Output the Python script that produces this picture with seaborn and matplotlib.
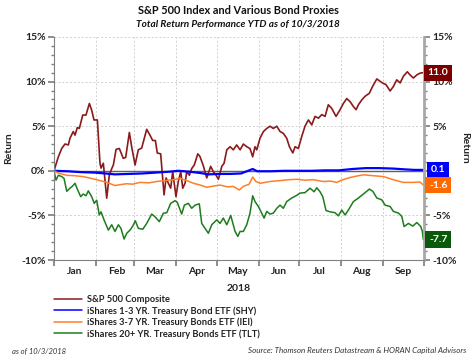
import numpy as np
import pandas as pd
import matplotlib
matplotlib.use("Agg")
import matplotlib.pyplot as plt
import seaborn as sns

# ---------------- data (days since 2018-01-01, total return %) ----------------
spx_days = [0, 3.2, 5.7, 8.1, 10.6, 11.8, 14.2, 15.5, 17.2, 18.7, 21.2, 23.6, 26.1, 27.8, 29.5, 32.0,
            33.9, 34.7, 36.4, 38.9, 40.8, 42.6, 43.8, 45.8, 48.2, 51.1, 52.9, 55.6, 57.3, 59.8, 62.2,
            64.7, 68.4, 70.8, 72.8, 74.8, 76.2, 78.7, 81.2, 82.7, 84.4, 86.1, 87.6, 90.0, 91.7, 93.5,
            95.0, 96.7, 97.9, 99.9, 101.6, 103.5, 106.1, 107.7, 110.2, 112.7, 115.6, 117.6, 119.6,
            121.3, 123.8, 125.5, 127.5, 129.9, 132.3, 134.8, 137.3, 139.7, 142.2, 144.6, 146.6, 148.3,
            149.6, 152.0, 154.5, 157.0, 159.4, 161.8, 164.4, 166.8, 169.2, 171.7, 173.7, 176.2, 177.9,
            180.3, 182.8, 185.2, 187.7, 190.2, 192.6, 195.1, 197.6, 200.0, 202.4, 204.9, 208.1, 211.1,
            213.5, 216.0, 218.5, 220.9, 222.9, 224.6, 227.1, 229.5, 232.7, 235.2, 238.2, 241.8, 245.0,
            248.0, 250.4, 252.9, 255.4, 257.8, 260.7, 262.7, 265.2, 267.7, 270.1, 272.1]
spx_vals = [0, 1.57, 2.5, 3.0, 2.9, 3.65, 4.4, 4.0, 4.85, 4.75, 6.25, 6.25, 7.55, 6.8, 5.7, 5.7,
            0.9, 0.3, 0.85, -3.07, -0.5, 0.25, 0.65, 2.4, 2.5, 1.4, 1.5, 4.3, 2.7, 0.65, 2.35,
            2.55, 4.65, 4.0, 3.4, 3.4, 2.0, 1.9, -2.7, -0.8, -1.4, -1.95, -0.1, -2.9, -1.2, -0.1,
            -1.95, -1.4, -0.1, -0.5, 0.25, 0.65, 1.9, 1.6, 0.55, -0.8, 0.5, -0.1, -0.5,
            -0.95, 0.5, 0.85, 2.35, 2.7, 2.35, 2.9, 2.35, 3.0, 2.7, 2.5, 1.57, 2.7,
            2.35, 3.65, 4.4, 4.75, 5.0, 4.75, 5.0, 4.4, 4.2, 3.65, 2.7, 2.0, 2.7,
            2.5, 3.85, 5.0, 5.7, 5.15, 6.1, 5.9, 6.3, 6.1, 7.4, 7.0, 6.1, 6.85,
            7.55, 8.1, 7.75, 7.2, 6.85, 7.4, 7.95, 8.35, 8.7, 9.5, 10.3, 9.9, 9.65,
            8.95, 9.45, 10.2, 9.85, 10.6, 11.1, 10.75, 10.4, 10.75, 10.95, 11.0]

shy_days = [0, 10, 20, 30, 38, 45, 55, 65, 75, 85, 92, 100, 108, 114, 122, 130, 138, 146.6, 150,
            160, 170, 180, 190, 200, 210, 220, 230, 240, 250, 260, 266, 272]
shy_vals = [0, -0.05, -0.15, -0.2, -0.3, -0.4, -0.35, -0.3, -0.2, -0.1, 0.0, -0.1, -0.25, -0.4, -0.35,
            -0.35, -0.3, 0.2, -0.05, -0.05, 0.0, 0.0, 0.0, 0.05, 0.05, 0.2, 0.3, 0.3, 0.25, 0.15, 0.1, 0.1]

iei_days = [0, 4, 9.4, 15, 21.5, 26, 31.5, 38.9, 45, 49, 53.6, 58, 63.5, 70, 75.8, 82, 88, 93, 98,
            102.9, 108, 112.7, 118, 122.5, 128, 132.3, 136.7, 139.7, 144, 146.6, 149, 152, 159.4,
            166.8, 173, 179.1, 185, 191.4, 198.7, 204, 208.6, 213, 218.5, 223, 228.3, 235.6, 243,
            250.4, 257.8, 265.2, 270, 272.5]
iei_vals = [0, -0.3, -0.5, -0.55, -0.65, -0.8, -1.0, -1.3, -1.65, -1.55, -1.45, -1.5, -1.3, -1.35, -1.2,
            -1.1, -1.0, -0.85, -1.1, -1.4, -1.6, -1.85, -1.7, -1.6, -1.8, -1.75, -2.15, -1.75, -1.5,
            -0.7, -1.2, -1.4, -1.2, -1.1, -1.0, -0.95, -1.05, -1.0, -1.2, -1.15, -1.3, -1.0, -0.75,
            -0.6, -0.45, -0.55, -0.65, -1.0, -1.3, -1.3, -1.25, -1.6]

tlt_days = [0, 1.5, 3.2, 5.7, 7.4, 9.4, 11.8, 13.8, 15.5, 17.2, 19.7, 21.6, 23.6, 25.3, 27.8, 29.7,
            31.5, 33.4, 34.7, 36.9, 40.1, 42.6, 45.0, 47.5, 49.4, 51.7, 53.7, 56.1, 58.1, 60.0, 62.2,
            65.5, 68.4, 72.1, 74.5, 77.7, 80.7, 83.2, 86.1, 89.3, 91.0, 94.2, 96.2, 99.1, 101.6,
            104.1, 107.2, 109.0, 113.9, 116.4, 120.1, 122.5, 124.9, 127.5, 130.4, 133.6, 135.6,
            137.3, 139.7, 142.2, 144.6, 146.6, 148.3, 150.8, 153.3, 155.0, 157.0, 159.4, 161.8,
            164.4, 166.8, 169.2, 171.7, 175.4, 178.6, 181.5, 185.2, 188.9, 191.9, 193.9, 196.3,
            198.3, 200.7, 203.7, 207.4, 209.8, 212.3, 214.8, 217.2, 220.9, 224.6, 228.3, 232.7,
            235.2, 238.2, 241.8, 244.3, 248.0, 250.4, 254.2, 256.6, 258.3, 261.5, 264.7, 267.7,
            270.6, 271.8, 272.5]
tlt_vals = [0, -1.05, -0.5, -0.65, -0.85, -2.3, -1.95, -1.7, -1.4, -2.05, -2.9, -2.6, -2.8, -2.25, -2.9,
            -3.65, -3.3, -4.95, -4.6, -5.5, -6.65, -6.05, -6.8, -6.05, -6.45, -7.65, -7.0, -6.65,
            -6.2, -5.6, -6.45, -6.55, -5.9, -4.85, -5.15, -5.7, -4.75, -4.7, -3.65, -3.35, -3.55,
            -4.85, -3.85, -3.65, -4.2, -3.85, -3.7, -5.9, -7.0, -6.05, -5.5, -5.9, -5.3, -6.05,
            -5.0, -6.8, -7.35, -6.8, -6.8, -6.05, -4.75, -2.8, -3.45, -4.0, -4.75, -5.3, -4.55,
            -4.85, -4.75, -4.2, -3.85, -4.2, -3.45, -3.05, -2.8, -2.5, -2.45, -1.95, -2.35, -1.9,
            -2.35, -2.9, -4.45, -4.6, -4.7, -5.05, -4.4, -4.95, -4.4, -3.45, -3.05, -2.6, -2.05,
            -2.3, -3.05, -3.25, -3.85, -4.0, -4.55, -4.75, -5.1, -6.25, -5.9, -6.2, -5.8, -6.25,
            -6.8, -7.7]

series_names = ["S&P 500 Composite",
                "iShares 1-3 YR. Treasury Bond ETF (SHY)",
                "iShares 3-7 YR. Treasury Bonds ETF (IEI)",
                "iShares 20+ YR. Treasury Bonds ETF (TLT)"]
end_labels = ["11.0", "0.1", "-1.6", "-7.7"]
end_values = [11.0, 0.1, -1.6, -7.7]
month_labels = ["Jan", "Feb", "Mar", "Apr", "May", "Jun", "Jul", "Aug", "Sep"]
line_colors = ["#8B1A1A", "#0000FF", "#FF7F27", "#1E7B1E"]
box_colors = ["#7A0000", "#0000FF", "#FF6A00", "#0B5A0B"]

# ---------------- build dataframe ----------------
start = pd.Timestamp("2018-01-01")
frames = []
for name, d, v in zip(series_names, [spx_days, shy_days, iei_days, tlt_days],
                      [spx_vals, shy_vals, iei_vals, tlt_vals]):
    frames.append(pd.DataFrame({"date": start + pd.to_timedelta(np.array(d), unit="D"),
                                "ret": np.array(v) / 100.0, "series": name}))
df = pd.concat(frames, ignore_index=True)

# ---------------- figure ----------------
sns.set_theme(style="white")
plt.rcParams["font.family"] = ["Lato", "DejaVu Sans"]
fig = plt.figure(figsize=(4.76, 3.57), dpi=100)
renderer = fig.canvas.get_renderer()


def fit_width(t, target_px):
    w = t.get_window_extent(renderer).width
    t.set_fontsize(t.get_fontsize() * target_px / w)
    return t.get_fontsize()


ax = fig.add_axes([54 / 476, 1 - 260 / 357, (424 - 54) / 476, (260 - 37) / 357])

sns.lineplot(data=df, x="date", y="ret", hue="series", hue_order=series_names,
             palette=line_colors, ax=ax, linewidth=1.1, estimator=None, sort=False, legend=True)
for ln, lw in zip(ax.lines[:4], [1.2, 1.6, 1.1, 1.1]):
    ln.set_linewidth(lw)

ax.axhline(0, color="#606060", lw=1.0, zorder=1)

ax.set_ylim(-0.10, 0.15)
ax.set_xlim(pd.Timestamp("2018-01-01"), pd.Timestamp("2018-10-01"))
ax.set_yticks(np.arange(-0.10, 0.151, 0.05))
ax.set_yticks(np.arange(-0.10, 0.151, 0.01), minor=True)
ax.yaxis.set_major_formatter(matplotlib.ticker.FuncFormatter(lambda v, p: f"{v*100:.0f}%"))

month_starts = pd.date_range("2018-01-01", "2018-10-01", freq="MS")
mid_months = [m + pd.Timedelta(days=15) for m in month_starts[:-1]]
ax.set_xticks(month_starts)
ax.set_xticklabels([])
ax.set_xticks(mid_months, minor=True)
ax.set_xticklabels(month_labels, minor=True)

ax.tick_params(axis="y", which="both", left=True, right=True, labelleft=True, labelright=True,
               direction="out", color="#808080")
ax.tick_params(axis="y", which="major", length=4, labelsize=7.5, pad=2)
ax.tick_params(axis="y", which="minor", length=2)
ax.tick_params(axis="x", which="major", bottom=True, length=4, direction="out", color="#808080")
ax.tick_params(axis="x", which="minor", bottom=False, length=0, labelsize=7.5, pad=5)
for lab in ax.get_yticklabels() + ax.get_xticklabels(minor=True):
    lab.set_fontweight("bold")
    lab.set_color("#222222")
# right-side "0%" lies beneath the 0.1 box in the original
for tk, v in zip(ax.yaxis.get_major_ticks(), ax.get_yticks()):
    if abs(v) < 1e-9:
        tk.label2.set_visible(False)

ax.grid(True, which="major", axis="both", color="#D0D0D0", linestyle=(0, (2, 2)), linewidth=0.7)
ax.spines["top"].set_visible(False)
ax.spines["bottom"].set_color("#808080")
ax.spines["bottom"].set_linewidth(0.8)
ax.spines["left"].set_color("#808080")
ax.spines["left"].set_linewidth(0.8)
ax.spines["right"].set_color("#A8A8A8")
ax.spines["right"].set_linewidth(2.0)

ax.set_xlabel("2018", fontsize=7.5, fontweight="bold", labelpad=6, color="#222222")
ax.set_ylabel("Return", fontsize=7.5, fontweight="bold", labelpad=6, color="#222222")
fig.text(465 / 476, 1 - 148 / 357, "Return", rotation=270, fontsize=7.5, fontweight="bold",
         ha="center", va="center", color="#222222")

# end-value boxes
for lbl, val, bc in zip(end_labels, end_values, box_colors):
    ax.annotate(lbl, xy=(1.0, val / 100.0), xycoords=("axes fraction", "data"),
                xytext=(10.2, 0), textcoords="offset points", ha="center", va="center",
                fontsize=7.5, fontweight="bold", color="white", annotation_clip=False,
                bbox=dict(boxstyle="square,pad=0.35", fc=bc, ec="none"), zorder=10)

# legend: size font so the longest entry is ~175 px wide
probe = fig.text(0, 0, series_names[3], fontsize=8, fontweight="bold")
leg_fs = fit_width(probe, 175)
probe.remove()
handles, labels = ax.get_legend_handles_labels()
ax.legend(handles, labels, loc="upper left", bbox_to_anchor=(54 / 476, 1 - 295 / 357),
          bbox_transform=fig.transFigure, frameon=False, fontsize=leg_fs, handlelength=3.0,
          handletextpad=0.5, labelspacing=0.22, borderaxespad=0, borderpad=0)
for t in ax.get_legend().get_texts():
    t.set_fontweight("bold")
    t.set_color("#222222")

# titles and notes
t1 = fig.text(238 / 476, 1 - 11 / 357, "S&P 500 Index and Various Bond Proxies", ha="center",
              va="center", fontsize=10, fontweight="bold", color="#111111")
fit_width(t1, 201)
t2 = fig.text(238 / 476, 1 - 25 / 357, "Total Return Performance YTD as of 10/3/2018", ha="center",
              va="center", fontsize=8, fontweight="bold", style="italic", color="#111111")
fit_width(t2, 203)
t3 = fig.text(12 / 476, 1 - 351 / 357, "as of 10/3/2018", ha="left", va="center", fontsize=6,
              style="italic", color="#333333")
fit_width(t3, 55)
t4 = fig.text(466 / 476, 1 - 351 / 357, "Source: Thomson Reuters Datastream & HORAN Capital Advisors",
              ha="right", va="center", fontsize=6, style="italic", color="#333333")
fit_width(t4, 221)

fig.savefig("out.png", dpi=100)
